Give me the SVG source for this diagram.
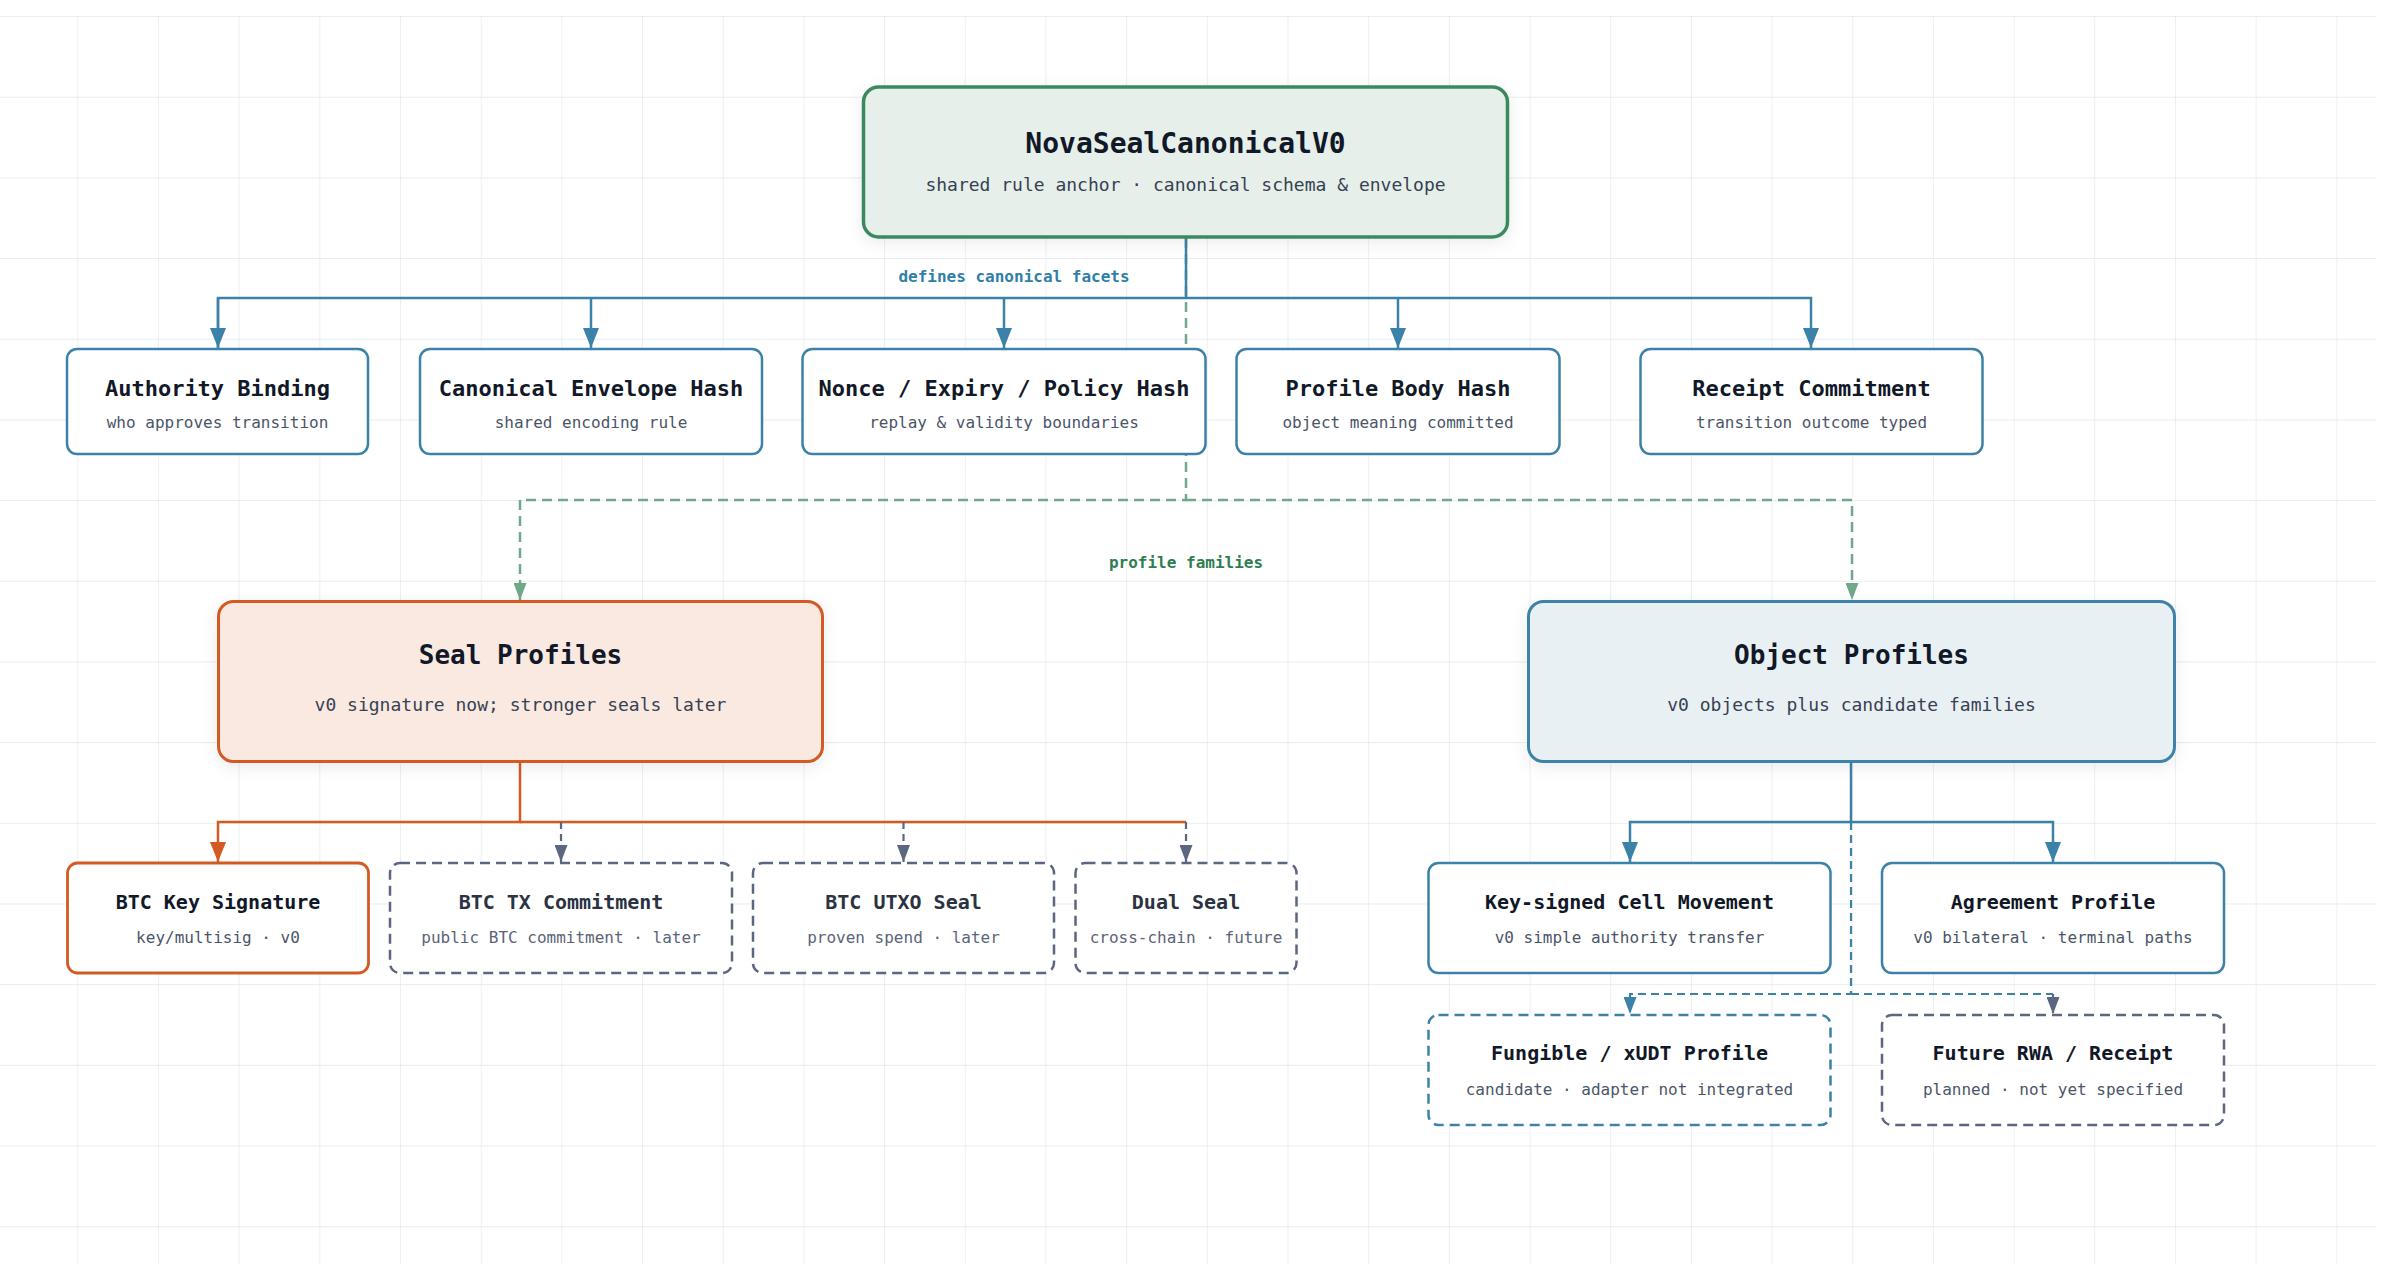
<svg xmlns="http://www.w3.org/2000/svg" width="2390" height="1264" viewBox="0 0 2390 1264">
<defs>
<pattern id="grid" x="-3.4" y="16" width="80.68" height="80.68" patternUnits="userSpaceOnUse">
<path d="M80.68 0 L0 0 L0 80.68" fill="none" stroke="#e2e6ec" stroke-width="1.3"/>
</pattern>
<filter id="shadow" x="-10%" y="-20%" width="120%" height="150%">
<feDropShadow dx="0" dy="4" stdDeviation="8" flood-color="#1f2937" flood-opacity="0.08"/>
</filter>
<marker id="aBlue" viewBox="0 0 20 16" refX="20" refY="8" markerWidth="20" markerHeight="16" markerUnits="userSpaceOnUse" orient="auto"><path d="M0,0 L20,8 L0,16 z" fill="#3c82a8"/></marker>
<marker id="aOrange" viewBox="0 0 20 16" refX="20" refY="8" markerWidth="20" markerHeight="16" markerUnits="userSpaceOnUse" orient="auto"><path d="M0,0 L20,8 L0,16 z" fill="#d35a23"/></marker>
<marker id="aGreen" viewBox="0 0 17 13" refX="17" refY="6.5" markerWidth="17" markerHeight="13" markerUnits="userSpaceOnUse" orient="auto"><path d="M0,0 L17,6.5 L0,13 z" fill="#6fa98a"/></marker>
<marker id="aGray" viewBox="0 0 17 13" refX="17" refY="6.5" markerWidth="17" markerHeight="13" markerUnits="userSpaceOnUse" orient="auto"><path d="M0,0 L17,6.5 L0,13 z" fill="#5b6680"/></marker>
<marker id="aBlueS" viewBox="0 0 17 13" refX="17" refY="6.5" markerWidth="17" markerHeight="13" markerUnits="userSpaceOnUse" orient="auto"><path d="M0,0 L17,6.5 L0,13 z" fill="#3c82a8"/></marker>
<style>
text{font-family:"DejaVu Sans Mono","Liberation Mono",monospace;text-anchor:middle}
.t{font-weight:bold;fill:#111827}
.tf{font-weight:bold;fill:#2b3343}
.s{fill:#4b5568}
.sf{fill:#5b6478}
.t28{font-size:28px}.t26{font-size:26px}.t22{font-size:22px}.t20{font-size:20px}
.s18{font-size:18px;fill:#374151}.s16{font-size:16px}
.box{fill:#ffffff;stroke:#3c82a8;stroke-width:2.5}
.boxo{fill:#ffffff;stroke:#d35a23;stroke-width:2.8}
.boxg{fill:#ffffff;stroke:#5b6680;stroke-width:2.5;stroke-dasharray:10 6}
.boxbd{fill:#ffffff;stroke:#3c82a8;stroke-width:2.5;stroke-dasharray:10 6}
.cb{fill:none;stroke:#3c82a8;stroke-width:2.5}
.co{fill:none;stroke:#d35a23;stroke-width:2.5}
.cg{fill:none;stroke:#6fa98a;stroke-width:2.5;stroke-dasharray:10 6}
.cgr{fill:none;stroke:#5b6680;stroke-width:2.2;stroke-dasharray:7 5}
.cbd{fill:none;stroke:#3c82a8;stroke-width:2.2;stroke-dasharray:8 5}
.lbl{font-size:16px;font-weight:bold}
</style>
</defs>
<rect x="0" y="0" width="2390" height="1264" fill="#ffffff"/>
<rect x="0" y="16" width="2376" height="1248" fill="url(#grid)"/>

<g id="connectors">
<path class="cg" d="M1186,238 V500 H520 V600" marker-end="url(#aGreen)"/>
<path class="cg" d="M1186,500 H1852 V600" marker-end="url(#aGreen)"/>
<path class="cb" d="M1186,238 V298"/>
<path class="cb" d="M218,348 V298 H1811 V348" marker-end="url(#aBlue)"/>
<path class="cb" d="M218,298 V348" marker-end="url(#aBlue)"/>
<path class="cb" d="M591,298 V348" marker-end="url(#aBlue)"/>
<path class="cb" d="M1004,298 V348" marker-end="url(#aBlue)"/>
<path class="cb" d="M1398,298 V348" marker-end="url(#aBlue)"/>
<text x="1014" y="282" class="lbl" fill="#2f7fa8">defines canonical facets</text>
<text x="1186" y="568" class="lbl" fill="#2f7d52">profile families</text>

<path class="co" d="M520,762 V822 H218 V862" marker-end="url(#aOrange)"/>
<path class="co" d="M520,822 H1186"/>
<path class="cgr" d="M561,822 V862" marker-end="url(#aGray)"/>
<path class="cgr" d="M903.5,822 V862" marker-end="url(#aGray)"/>
<path class="cgr" d="M1186,822 V862" marker-end="url(#aGray)"/>

<path class="cbd" d="M1851,822 V994 H1630 V1014" marker-end="url(#aBlueS)"/>
<path class="cbd" d="M1851,994 H2053"/>
<path class="cgr" d="M2053,994 V1014" marker-end="url(#aGray)"/>
<path class="cb" d="M1851,762 V822 H1630 V862" marker-end="url(#aBlue)"/>
<path class="cb" d="M1851,822 H2053 V862" marker-end="url(#aBlue)"/>
</g>

<g id="root">
<rect x="863.5" y="87" width="644" height="150" rx="15" fill="#e6efe9" stroke="#3b8a5f" stroke-width="3.5" filter="url(#shadow)"/>
<text x="1185.5" y="153" class="t t28">NovaSealCanonicalV0</text>
<text x="1185.5" y="191" class="s18">shared rule anchor · canonical schema &amp; envelope</text>
</g>

<g id="authority-binding">
<rect x="67" y="349" width="301" height="105" rx="10" class="box"/>
<text x="217.5" y="396" class="t t22">Authority Binding</text>
<text x="217.5" y="428" class="s s16">who approves transition</text>
</g>
<g id="canonical-envelope-hash">
<rect x="420" y="349" width="342" height="105" rx="10" class="box"/>
<text x="591" y="396" class="t t22">Canonical Envelope Hash</text>
<text x="591" y="428" class="s s16">shared encoding rule</text>
</g>
<g id="nonce-expiry-policy-hash">
<rect x="802.5" y="349" width="403" height="105" rx="10" class="box"/>
<text x="1004" y="396" class="t t22">Nonce / Expiry / Policy Hash</text>
<text x="1004" y="428" class="s s16">replay &amp; validity boundaries</text>
</g>
<g id="profile-body-hash">
<rect x="1236.5" y="349" width="323" height="105" rx="10" class="box"/>
<text x="1398" y="396" class="t t22">Profile Body Hash</text>
<text x="1398" y="428" class="s s16">object meaning committed</text>
</g>
<g id="receipt-commitment">
<rect x="1640.5" y="349" width="342" height="105" rx="10" class="box"/>
<text x="1811.5" y="396" class="t t22">Receipt Commitment</text>
<text x="1811.5" y="428" class="s s16">transition outcome typed</text>
</g>

<g id="seal-profiles">
<rect x="218.5" y="601.5" width="604" height="160" rx="15" fill="#f9e9e1" stroke="#d35a23" stroke-width="3" filter="url(#shadow)"/>
<text x="520.5" y="664" class="t t26">Seal Profiles</text>
<text x="520.5" y="711" class="s18">v0 signature now; stronger seals later</text>
</g>
<g id="object-profiles">
<rect x="1528.5" y="601.5" width="646" height="160" rx="15" fill="#e9f0f4" stroke="#3c82a8" stroke-width="3" filter="url(#shadow)"/>
<text x="1851.5" y="664" class="t t26">Object Profiles</text>
<text x="1851.5" y="711" class="s18">v0 objects plus candidate families</text>
</g>

<g id="btc-key-signature">
<rect x="67.5" y="863" width="301" height="110" rx="10" class="boxo"/>
<text x="218" y="909" class="t t20">BTC Key Signature</text>
<text x="218" y="943" class="s s16">key/multisig · v0</text>
</g>
<g id="btc-tx-commitment">
<rect x="390" y="863" width="342" height="110" rx="10" class="boxg"/>
<text x="561" y="909" class="tf t20">BTC TX Commitment</text>
<text x="561" y="943" class="sf s16">public BTC commitment · later</text>
</g>
<g id="btc-utxo-seal">
<rect x="753" y="863" width="301" height="110" rx="10" class="boxg"/>
<text x="903.5" y="909" class="tf t20">BTC UTXO Seal</text>
<text x="903.5" y="943" class="sf s16">proven spend · later</text>
</g>
<g id="dual-seal">
<rect x="1075.5" y="863" width="221" height="110" rx="10" class="boxg"/>
<text x="1186" y="909" class="tf t20">Dual Seal</text>
<text x="1186" y="943" class="sf s16">cross-chain · future</text>
</g>

<g id="key-signed-cell-movement">
<rect x="1428.5" y="863" width="402" height="110" rx="10" class="box"/>
<text x="1629.5" y="909" class="t t20">Key-signed Cell Movement</text>
<text x="1629.5" y="943" class="s s16">v0 simple authority transfer</text>
</g>
<g id="agreement-profile">
<rect x="1882" y="863" width="342" height="110" rx="10" class="box"/>
<text x="2053" y="909" class="t t20">Agreement Profile</text>
<text x="2053" y="943" class="s s16">v0 bilateral · terminal paths</text>
</g>
<g id="fungible-xudt-profile">
<rect x="1428.5" y="1015" width="402" height="110" rx="10" class="boxbd"/>
<text x="1629.5" y="1060" class="t t20">Fungible / xUDT Profile</text>
<text x="1629.5" y="1095" class="s s16">candidate · adapter not integrated</text>
</g>
<g id="future-rwa-receipt">
<rect x="1882" y="1015" width="342" height="110" rx="10" class="boxg"/>
<text x="2053" y="1060" class="t t20">Future RWA / Receipt</text>
<text x="2053" y="1095" class="s s16">planned · not yet specified</text>
</g>
</svg>
